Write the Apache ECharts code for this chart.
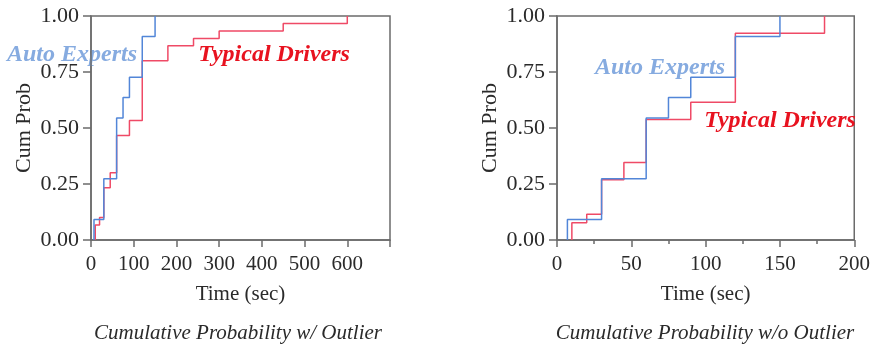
<!DOCTYPE html>
<html>
<head>
<meta charset="utf-8">
<script src="https://cdn.jsdelivr.net/npm/echarts@6/dist/echarts.min.js"></script>
<style>
  html, body { margin: 0; padding: 0; background: #fff; }
  #chart { width: 873px; height: 346px; }
</style>
</head>
<body>
<div id="chart"></div>
<script>
// Auto Experts (same in both panels)
var expertTimes = [7, 7, 30, 60, 75, 90, 120, 150];
var expertProbs = [0, 0.091, 0.273, 0.545, 0.636, 0.727, 0.909, 1.0];

// Typical Drivers, with outlier
var driverTimesAll = [10, 10, 20, 30, 45, 60, 90, 120, 180, 240, 300, 450, 600];
var driverProbsAll = [0, 0.067, 0.1, 0.233, 0.3, 0.467, 0.533, 0.8, 0.867, 0.9, 0.933, 0.967, 1.0];

// Typical Drivers, without outlier
var driverTimesNo = [10, 10, 20, 30, 45, 60, 90, 120, 180];
var driverProbsNo = [0, 0.077, 0.115, 0.269, 0.346, 0.538, 0.615, 0.923, 1.0];

var BLUE = "#5286d8";
var RED = "#ef4a66";
var AXIS = "#6b6b6b";
var TEXT = "#2a2a2a";
var FONT = "Liberation Serif";

function zip(xs, ys) {
      return xs.map(function (x, i) {
            return [x, ys[i]];
      });
}

function xAxisOf(idx, max, interval, hideLast, minor) {
      return {
            gridIndex: idx,
            type: "value",
            min: 0,
            max: max,
            interval: interval,
            name: "Time (sec)",
            nameLocation: "middle",
            nameGap: 44,
            nameTextStyle: { fontFamily: FONT, fontSize: 21, color: TEXT },
            axisLine: { show: true, lineStyle: { color: AXIS, width: 1.5 } },
            axisTick: { show: true, length: 7, lineStyle: { color: AXIS, width: 1.5 } },
            minorTick: { show: !!minor, splitNumber: 2, length: 4, lineStyle: { color: AXIS, width: 1.5 } },
            splitLine: { show: false },
            axisLabel: {
                  fontFamily: FONT,
                  fontSize: 21,
                  color: TEXT,
                  margin: 14,
                  formatter: function (v) {
                        return hideLast && v === max ? "" : String(v);
                  },
            },
      };
}

function yAxisOf(idx) {
      return {
            gridIndex: idx,
            type: "value",
            min: 0,
            max: 1,
            interval: 0.25,
            name: "Cum Prob",
            nameLocation: "middle",
            nameGap: 56,
            nameTextStyle: { fontFamily: FONT, fontSize: 22, color: TEXT },
            axisLine: { show: true, lineStyle: { color: AXIS, width: 1.5 } },
            axisTick: { show: true, length: 8, lineStyle: { color: AXIS, width: 1.5 } },
            splitLine: { show: false },
            axisLabel: {
                  fontFamily: FONT,
                  fontSize: 22,
                  color: TEXT,
                  margin: 12,
                  formatter: function (v) {
                        return v.toFixed(2);
                  },
            },
      };
}

function stepSeries(idx, name, data, color) {
      return {
            name: name,
            type: "line",
            step: "end",
            xAxisIndex: idx,
            yAxisIndex: idx,
            data: data,
            showSymbol: false,
            lineStyle: { color: color, width: 1.5 },
            itemStyle: { color: color },
      };
}

function label(text, cx, cy, color) {
      return {
            type: "text",
            x: cx,
            y: cy,
            style: {
                  text: text,
                  fill: color,
                  font: "italic bold 24px 'Liberation Serif'",
                  align: "center",
                  verticalAlign: "middle",
            },
      };
}

function caption(text, cx, cy) {
      return {
            type: "text",
            x: cx,
            y: cy,
            style: {
                  text: text,
                  fill: TEXT,
                  font: "italic 21px 'Liberation Serif'",
                  align: "center",
                  verticalAlign: "middle",
            },
      };
}

var chart = echarts.init(document.getElementById("chart"));
chart.setOption({
      animation: false,
      grid: [
            { left: 91, right: 483, top: 16, bottom: 106, show: true, borderColor: AXIS, borderWidth: 1.5 },
            { left: 557, right: 16, top: 16, bottom: 106, show: true, borderColor: AXIS, borderWidth: 1.5 },
      ],
      xAxis: [xAxisOf(0, 700, 100, true, false), xAxisOf(1, 200, 50, false, true)],
      yAxis: [yAxisOf(0), yAxisOf(1)],
      series: [
            stepSeries(0, "Typical Drivers", zip(driverTimesAll, driverProbsAll), RED),
            stepSeries(0, "Auto Experts", zip(expertTimes, expertProbs), BLUE),
            stepSeries(1, "Typical Drivers", zip(driverTimesNo, driverProbsNo), RED),
            stepSeries(1, "Auto Experts", zip(expertTimes, expertProbs), BLUE),
      ],
      graphic: [
            label("Auto Experts", 72, 55, "#86abe0"),
            label("Typical Drivers", 274, 55, "#e8121f"),
            label("Auto Experts", 660, 68, "#86abe0"),
            label("Typical Drivers", 780, 121, "#e8121f"),
            caption("Cumulative Probability w/ Outlier", 238, 333),
            caption("Cumulative Probability w/o Outlier", 705, 333),
      ],
});
</script>
</body>
</html>
